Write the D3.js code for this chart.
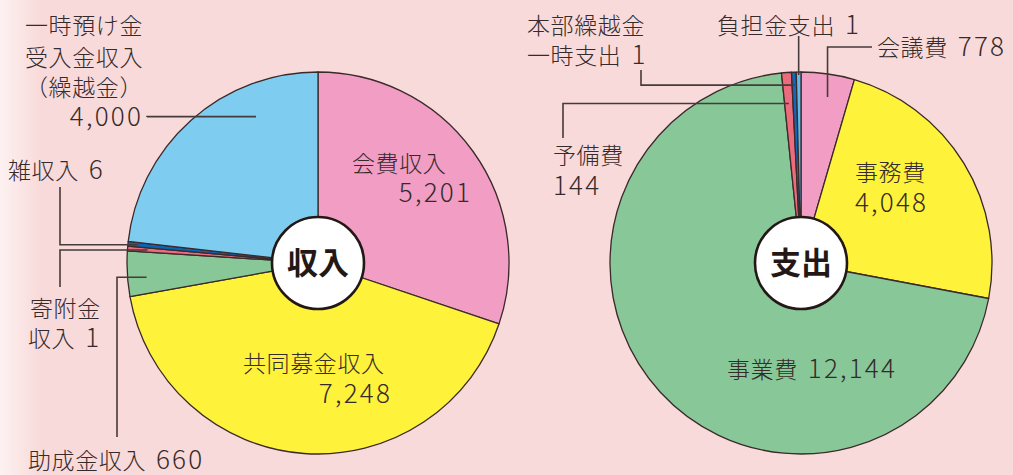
<!DOCTYPE html>
<html>
<head>
<meta charset="utf-8">
<script src="https://cdn.jsdelivr.net/npm/d3@7"></script>
<style>
  html, body { margin: 0; padding: 0; background: #f9dada; }
  svg { display: block; }
</style>
</head>
<body>
<svg id="chart" width="1013" height="475"></svg>
<script>
// ---- data ----
const incomeCategories = ["会費収入", "共同募金収入", "助成金収入", "寄附金収入", "雑収入", "一時預け金受入金収入（繰越金）"];
const incomeValues = [5201, 7248, 660, 1, 6, 4000];
const expenseCategories = ["会議費", "事務費", "事業費", "予備費", "本部繰越金一時支出", "負担金支出"];
const expenseValues = [778, 4048, 12144, 144, 1, 1];
const centerTitles = ["収入", "支出"];

// ---- styles / layout ----
const incomeColors = ["#f19dc4", "#fff23b", "#88c898", "#ec6b7d", "#0b63b3", "#7ecdf1"];
const expenseColors = ["#f19dc4", "#fff23b", "#88c898", "#ec6b7d", "#1467b8", "#5fbcec"];
const textColor = "#352b2b";
const lineColor = "#463a3a";
const R = 191, innerR = 46;
const minFrac = 0.004; // minimum visible slice share for tiny values

const incomeLayout = [
  {breaks: [], value: "newline", pos: [[352, 172, "start"], [472, 202, "end"]]},
  {breaks: [], value: "newline", pos: [[243, 372, "start"], [392, 403, "end"]]},
  {breaks: [], value: "inline", pos: [[28, 469, "start"]], leader: {from: [117, 437], t: 0.39, r: 172, order: "vh"}},
  {breaks: [3], value: "inline", pos: [[30, 317, "start"], [28, 347, "start"]], leader: {from: [60, 287], t: 0.5, r: 171, order: "vh"}},
  {breaks: [], value: "inline", pos: [[8, 179, "start"]], leader: {from: [60, 187], t: 0.5, r: 181, order: "vh"}},
  {breaks: [5, 10], value: "newline", pos: [[143, 34, "end"], [143, 66, "end"], [143, 96, "end"], [143, 126, "end"]], leader: {from: [147, 117], t: 0.725, r: 159, order: "vh"}}
];
const expenseLayout = [
  {breaks: [], value: "inline", pos: [[877, 56, "start"]], leader: {from: [872, 47], t: 0.56, r: 168, order: "hv"}},
  {breaks: [], value: "newline", pos: [[855, 181, "start"], [855, 212, "start"]]},
  {breaks: [], value: "inline", pos: [[727, 378, "start"]]},
  {breaks: [], value: "newline", pos: [[553, 164, "start"], [553, 195, "start"]], leader: {from: [563, 138], t: 0.5, r: 160, order: "vh"}},
  {breaks: [5], value: "inline", pos: [[527, 34, "start"], [527, 64, "start"]], leader: {from: [641, 70], t: 0.5, r: 178, order: "vh"}},
  {breaks: [], value: "inline", pos: [[717, 34, "start"]], leader: {from: [null, 36], t: 0.5, r: 188, order: "v"}}
];

const svg = d3.select("#chart");
const defs = svg.append("defs");
const grad = defs.append("linearGradient").attr("id", "bg").attr("x1", 0).attr("x2", 1).attr("y1", 0).attr("y2", 0);
grad.append("stop").attr("offset", "0").attr("stop-color", "#fdf1f1");
grad.append("stop").attr("offset", "0.04").attr("stop-color", "#f9dada");
grad.append("stop").attr("offset", "1").attr("stop-color", "#f9dada");
svg.append("rect").attr("width", 1013).attr("height", 475).attr("fill", "url(#bg)");

const fmt = d3.format(",");
const font = "'Noto Sans CJK JP', 'Noto Sans', sans-serif";

function drawPie(cx, cy, cats, vals, colors, layout, title) {
  const total = d3.sum(vals);
  const pie = d3.pie().sort(null).value(v => Math.max(v, total * minFrac));
  const arcs = pie(vals);
  const arc = d3.arc().innerRadius(0).outerRadius(R);
  const g = svg.append("g").attr("transform", `translate(${cx},${cy})`);
  g.selectAll("path.slice").data(arcs).join("path")
    .attr("class", "slice")
    .attr("d", arc)
    .attr("fill", (d, i) => colors[i])
    .attr("stroke", "#3a2a2a")
    .attr("stroke-width", 1.3)
    .attr("stroke-linejoin", "round");

  // leaders
  arcs.forEach((a, i) => {
    const L = layout[i].leader;
    if (!L) return;
    const ang = a.startAngle + (a.endAngle - a.startAngle) * L.t;
    const tx = cx + L.r * Math.sin(ang), ty = cy - L.r * Math.cos(ang);
    const fx = L.from[0] == null ? tx : L.from[0], fy = L.from[1];
    let pts;
    if (L.order === "vh") pts = [[fx, fy], [fx, ty], [tx, ty]];
    else if (L.order === "hv") pts = [[fx, fy], [tx, fy], [tx, ty]];
    else pts = [[tx, fy], [tx, ty]];
    svg.append("path").attr("d", d3.line()(pts))
      .attr("fill", "none").attr("stroke", lineColor).attr("stroke-width", 1.6);
  });

  // labels
  arcs.forEach((a, i) => {
    const spec = layout[i];
    const name = cats[i];
    const cuts = [0, ...spec.breaks, name.length];
    const lines = [];
    for (let k = 0; k < cuts.length - 1; k++) lines.push({jp: name.slice(cuts[k], cuts[k + 1]), num: null});
    const vs = fmt(vals[i]);
    if (spec.value === "inline") lines[lines.length - 1].num = vs;
    else lines.push({jp: null, num: vs});
    lines.forEach((ln, k) => {
      const p = spec.pos[k];
      const t = svg.append("text").attr("x", p[0]).attr("y", p[1])
        .attr("text-anchor", p[2]).attr("fill", textColor)
        .style("font-family", font).style("font-weight", 300);
      if (ln.jp) t.append("tspan").style("font-size", "23px").style("letter-spacing", "0.6px").text(ln.jp);
      if (ln.num) {
        const n = t.append("tspan").style("font-size", "26px").style("letter-spacing", "2.2px").text(ln.num);
        if (ln.jp) n.attr("dx", 10);
      }
    });
  });

  // center
  g.append("circle").attr("r", innerR).attr("fill", "#ffffff").attr("stroke", "#231815").attr("stroke-width", 2.6);
  g.append("text").attr("y", 11).attr("text-anchor", "middle")
    .attr("fill", "#231815").style("font-family", font).style("font-weight", 700)
    .style("font-size", "31px").text(title);
}

drawPie(318, 263, incomeCategories, incomeValues, incomeColors, incomeLayout, centerTitles[0]);
drawPie(801, 263, expenseCategories, expenseValues, expenseColors, expenseLayout, centerTitles[1]);
</script>
</body>
</html>
